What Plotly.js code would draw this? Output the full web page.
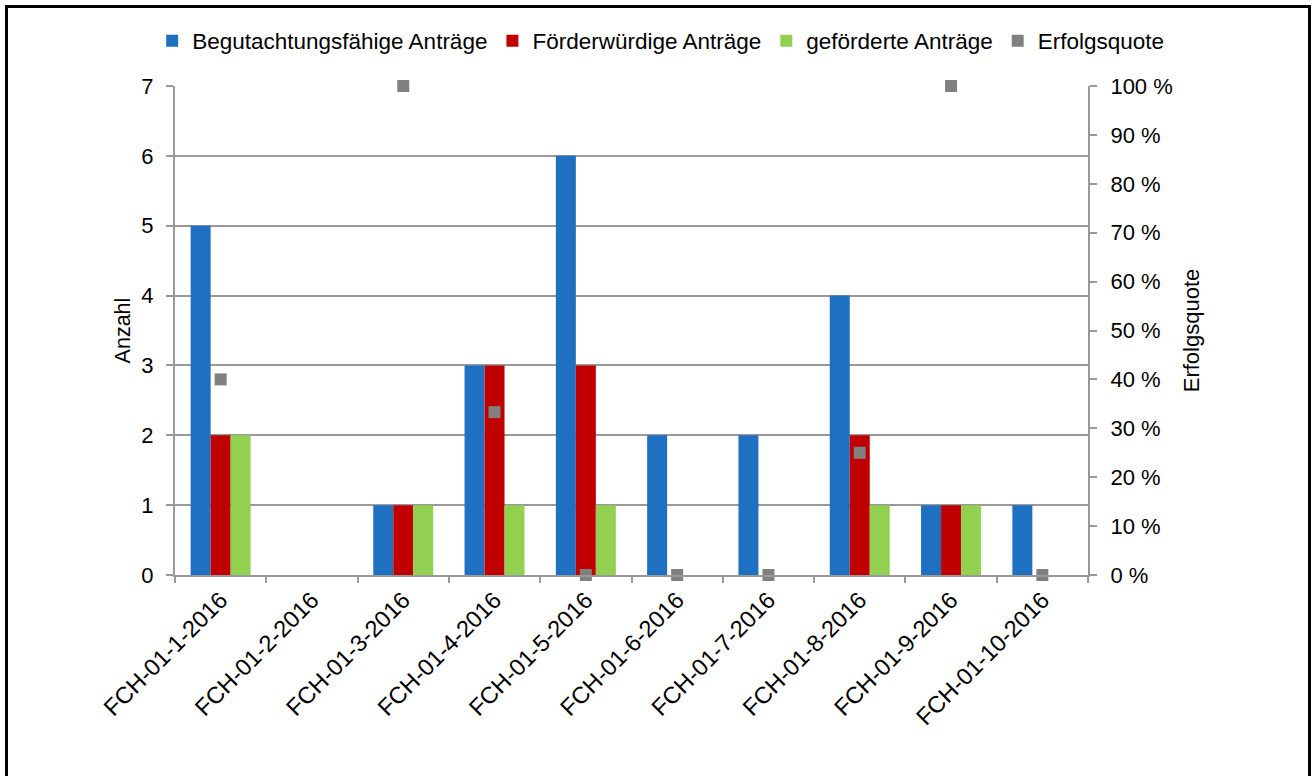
<!DOCTYPE html>
<html>
<head>
<meta charset="utf-8">
<script src="https://cdn.plot.ly/plotly-3.0.1.min.js"></script>
<style>
  html, body { margin: 0; padding: 0; background: #fff; overflow: hidden; }
  #chart { width: 1315px; height: 776px; }
  #frame { position: absolute; left: 5px; top: 5px; width: 1300px; height: 800px; border: 3px solid #000; pointer-events: none; }
</style>
</head>
<body>
<div id="chart"></div>
<div id="frame"></div>
<script>
const categories = ["FCH-01-1-2016","FCH-01-2-2016","FCH-01-3-2016","FCH-01-4-2016","FCH-01-5-2016","FCH-01-6-2016","FCH-01-7-2016","FCH-01-8-2016","FCH-01-9-2016","FCH-01-10-2016"];
const begutachtungsfaehig = [5,0,1,3,6,2,2,4,1,1];
const foerderwuerdig = [2,0,1,3,3,0,0,2,1,0];
const gefoerdert = [2,0,1,1,1,0,0,1,1,0];
const erfolgsquote = [40,null,100,33.3,0,0,0,25,100,0];
const yTicks = [0,1,2,3,4,5,6,7];
const y2Ticks = [0,10,20,30,40,50,60,70,80,90,100];
const y2TickLabels = y2Ticks.map(v => v + ' %');

const font = "Liberation Sans, Arial, sans-serif";
const axisGray = '#999999';
const traces = [
  {type:'bar', name:'Begutachtungsfähige Anträge', x:categories, y:begutachtungsfaehig, marker:{color:'#1f70c1'}},
  {type:'bar', name:'Förderwürdige Anträge', x:categories, y:foerderwuerdig, marker:{color:'#c00000'}},
  {type:'bar', name:'geförderte Anträge', x:categories, y:gefoerdert, marker:{color:'#92d050'}},
  {type:'scatter', mode:'markers', name:'Erfolgsquote', x:categories, y:erfolgsquote, yaxis:'y2', cliponaxis:false,
   marker:{symbol:'square', size:12, color:'#808080'}}
];
const layout = {
  width:1315, height:776,
  margin:{l:175, r:227, t:86, b:201},
  paper_bgcolor:'#fff', plot_bgcolor:'#fff',
  font:{family:font, size:22, color:'#000'},
  barmode:'group', bargap:0.343, bargroupgap:0,
  showlegend:true,
  legend:{orientation:'h', x:-0.025, xanchor:'left', y:1.092, yanchor:'middle', font:{family:font, size:22.5}, itemwidth:30, tracegroupgap:0},
  xaxis:{type:'category', range:[-0.5, 9.5], tickangle:-45, ticks:'outside', ticklen:6, tickcolor:axisGray, tickwidth:2, tickson:'boundaries',
         showline:true, linecolor:axisGray, linewidth:2, showgrid:false, tickfont:{size:23.5}, automargin:false},
  yaxis:{range:[0,7], tickvals:yTicks, ticks:'outside', ticklen:7, tickcolor:axisGray, tickwidth:2, showline:true, linecolor:axisGray, linewidth:2,
         showgrid:true, gridcolor:axisGray, gridwidth:2, zeroline:false, tickfont:{size:22}, ticklabelstandoff:8,
         title:{text:'Anzahl', font:{size:21.5}, standoff:5}, automargin:false},
  yaxis2:{overlaying:'y', side:'right', range:[0,100], tickvals:y2Ticks, ticktext:y2TickLabels, ticks:'outside', ticklen:7, tickcolor:axisGray, tickwidth:2,
          showline:true, linecolor:axisGray, linewidth:2, showgrid:false, zeroline:false, tickfont:{size:22}, ticklabelstandoff:9,
          title:{text:'Erfolgsquote', font:{size:22}, standoff:12}, automargin:false}
};
Plotly.newPlot('chart', traces, layout, {displayModeBar:false, staticPlot:true});
</script>
</body>
</html>
